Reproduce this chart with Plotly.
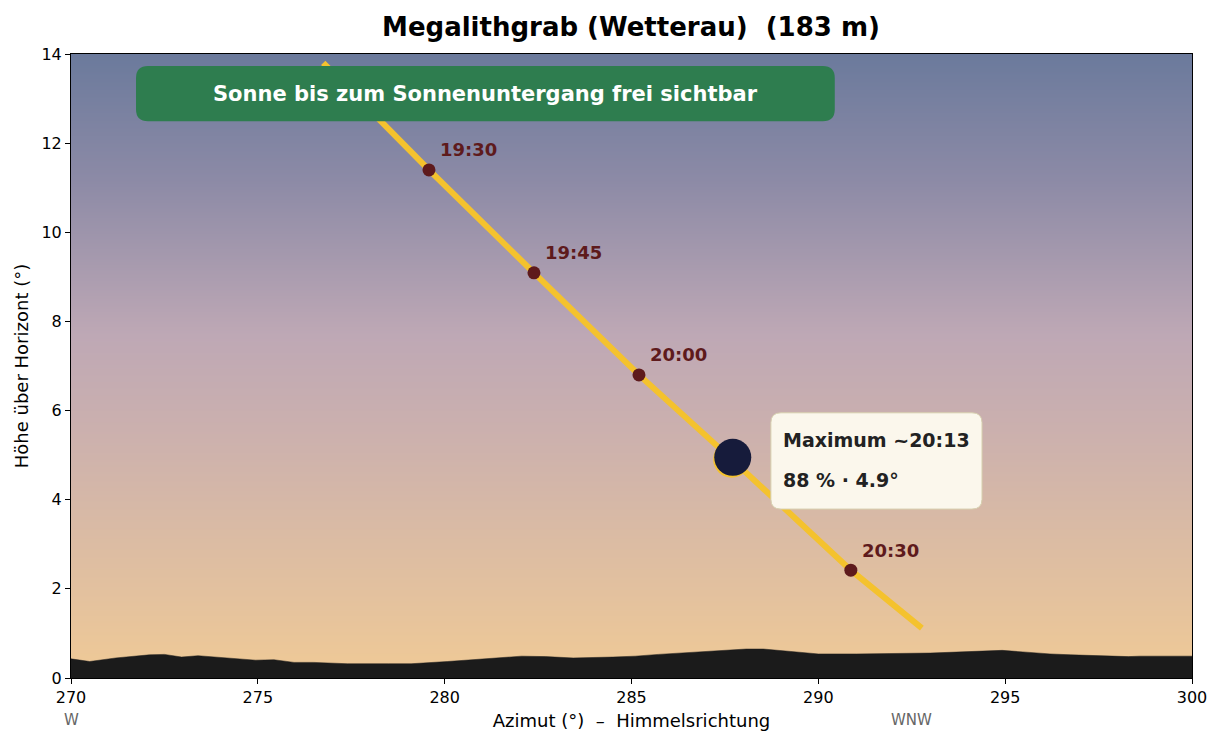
import plotly.graph_objects as go

# sun path (azimuth / altitude in degrees)
path_times = ["19:15", "19:30", "19:45", "20:00", "20:13", "20:30", "20:40"]
path_az = [276.75, 279.58, 282.39, 285.20, 287.68, 290.87, 292.77]
path_alt = [13.80, 11.40, 9.09, 6.80, 4.91, 2.42, 1.12]

# labelled quarter-hour marks
mark_times = ["19:30", "19:45", "20:00", "20:30"]
mark_az = [279.58, 282.39, 285.20, 290.87]
mark_alt = [11.40, 9.09, 6.80, 2.42]

# eclipse maximum
max_az = 287.68
max_alt = 4.91
moon_az = 287.71
moon_alt = 4.95
max_lines = ["Maximum ~20:13", "88 % · 4.9°"]

# terrain horizon profile
horizon_az = [270.0, 270.5, 271.2, 272.1, 272.5, 272.96, 273.4, 274.0, 274.94, 275.43,
              275.97, 276.5, 277.4, 278.5, 279.1, 280.08, 281.46, 282.06, 282.7, 283.44,
              284.5, 285.1, 285.72, 287.0, 288.07, 288.53, 289.3, 290.0, 291.03, 292.0,
              293.0, 294.92, 295.48, 296.2, 296.76, 298.3, 298.6, 300.0]
horizon_alt = [0.43, 0.37, 0.45, 0.52, 0.53, 0.47, 0.50, 0.46, 0.40, 0.41,
               0.35, 0.35, 0.32, 0.32, 0.32, 0.37, 0.46, 0.49, 0.48, 0.45,
               0.47, 0.49, 0.53, 0.59, 0.65, 0.65, 0.60, 0.54, 0.54, 0.55,
               0.56, 0.62, 0.58, 0.54, 0.52, 0.48, 0.49, 0.49]

# compass labels under the x axis
compass_az = [270, 292.5]
compass_txt = ["W", "WNW"]

title = "Megalithgrab (Wetterau)  (183 m)"
banner = "Sonne bis zum Sonnenuntergang frei sichtbar"

FONT = "DejaVu Sans"

fig = go.Figure()

# sky gradient
fig.add_trace(go.Heatmap(
    x=[270, 300], y=[0, 14], z=[[0, 0], [14, 14]],
    zsmooth="best", showscale=False, hoverinfo="skip",
    colorscale=[[0.0, "#f0ca96"], [0.2, "#ddbda2"], [0.4, "#cbb0ae"],
                [0.55, "#bea8b5"], [0.8, "#8c8aa6"], [1.0, "#6b7a9c"]],
    zmin=0, zmax=14,
))

# terrain
fig.add_trace(go.Scatter(
    x=horizon_az, y=horizon_alt, mode="lines", fill="tozeroy",
    line=dict(color="#1b1b1b", width=0.5), fillcolor="#1b1b1b", hoverinfo="skip",
))

# sun path
fig.add_trace(go.Scatter(
    x=path_az, y=path_alt, mode="lines",
    line=dict(color="#f4c22e", width=6), hoverinfo="skip",
))

# time marks
fig.add_trace(go.Scatter(
    x=mark_az, y=mark_alt, mode="markers",
    marker=dict(color="#5e1a1c", size=13), hoverinfo="skip",
))
for t, a, h in zip(mark_times, mark_az, mark_alt):
    fig.add_annotation(x=a, y=h, text="<b>" + t + "</b>", showarrow=False,
                       xanchor="left", yanchor="middle", xshift=9, yshift=20,
                       font=dict(family=FONT, size=18, color="#5e1a1c"))

# sun + moon at maximum
fig.add_trace(go.Scatter(
    x=[max_az], y=[max_alt], mode="markers",
    marker=dict(color="#f4c22e", size=37), hoverinfo="skip",
))
fig.add_trace(go.Scatter(
    x=[moon_az], y=[moon_alt], mode="markers",
    marker=dict(color="#161b3b", size=37), hoverinfo="skip",
))


def rounded(x0, x1, y0, y1, rx, ry):
    return (f"M {x0 + rx},{y0} L {x1 - rx},{y0} Q {x1},{y0} {x1},{y0 + ry} "
            f"L {x1},{y1 - ry} Q {x1},{y1} {x1 - rx},{y1} L {x0 + rx},{y1} "
            f"Q {x0},{y1} {x0},{y1 - ry} L {x0},{y0 + ry} Q {x0},{y0} {x0 + rx},{y0} Z")


# green banner
fig.add_shape(type="path", xref="x", yref="y",
              path=rounded(271.74, 290.44, 12.49, 13.73, 0.32, 0.27),
              fillcolor="#2e7d4f", line=dict(width=0))
fig.add_annotation(x=281.09, y=13.11, text="<b>" + banner + "</b>", showarrow=False,
                   font=dict(family=FONT, size=21, color="white"))

# info box
fig.add_shape(type="path", xref="x", yref="y",
              path=rounded(288.73, 294.38, 3.79, 5.95, 0.27, 0.22),
              fillcolor="#fbf7ec", line=dict(color="#d6cfae", width=1))
fig.add_annotation(x=289.0, y=5.33, text="<b>" + max_lines[0] + "</b>", showarrow=False,
                   xanchor="left", font=dict(family=FONT, size=19, color="#222222"))
fig.add_annotation(x=289.0, y=4.44, text="<b>" + max_lines[1] + "</b>", showarrow=False,
                   xanchor="left", font=dict(family=FONT, size=19, color="#222222"))

# compass labels
for a, t in zip(compass_az, compass_txt):
    fig.add_annotation(x=a, y=0, xref="x", yref="paper", text=t, showarrow=False,
                       yanchor="middle", yshift=-42,
                       font=dict(family=FONT, size=15, color="#666666"))

fig.update_layout(
    width=1224, height=744,
    margin=dict(l=71, r=32, t=54, b=66),
    paper_bgcolor="white", plot_bgcolor="white",
    showlegend=False,
    font=dict(family=FONT, size=16, color="black"),
    title=dict(text="<b>" + title + "</b>", x=0.5155, xanchor="center",
               y=0.964, yanchor="middle", yref="container",
               font=dict(family=FONT, size=26, color="black")),
)
fig.update_xaxes(range=[270, 300], tickvals=[270, 275, 280, 285, 290, 295, 300],
                 showgrid=False, zeroline=False, showline=True, linecolor="black",
                 linewidth=1, mirror=True, ticks="outside", ticklen=5, tickcolor="black",
                 tickfont=dict(size=16),
                 title=dict(text="Azimut (°)  –  Himmelsrichtung", standoff=8,
                            font=dict(size=18)))
fig.update_yaxes(range=[0, 14], tickvals=list(range(0, 15, 2)),
                 showgrid=False, zeroline=False, showline=True, linecolor="black",
                 linewidth=1, mirror=True, ticks="outside", ticklen=5, tickcolor="black",
                 tickfont=dict(size=16),
                 title=dict(text="Höhe über Horizont (°)", standoff=8,
                            font=dict(size=18)))

fig.write_html("out.html", config={"displayModeBar": False},
               post_script="document.body.style.margin='0';")
